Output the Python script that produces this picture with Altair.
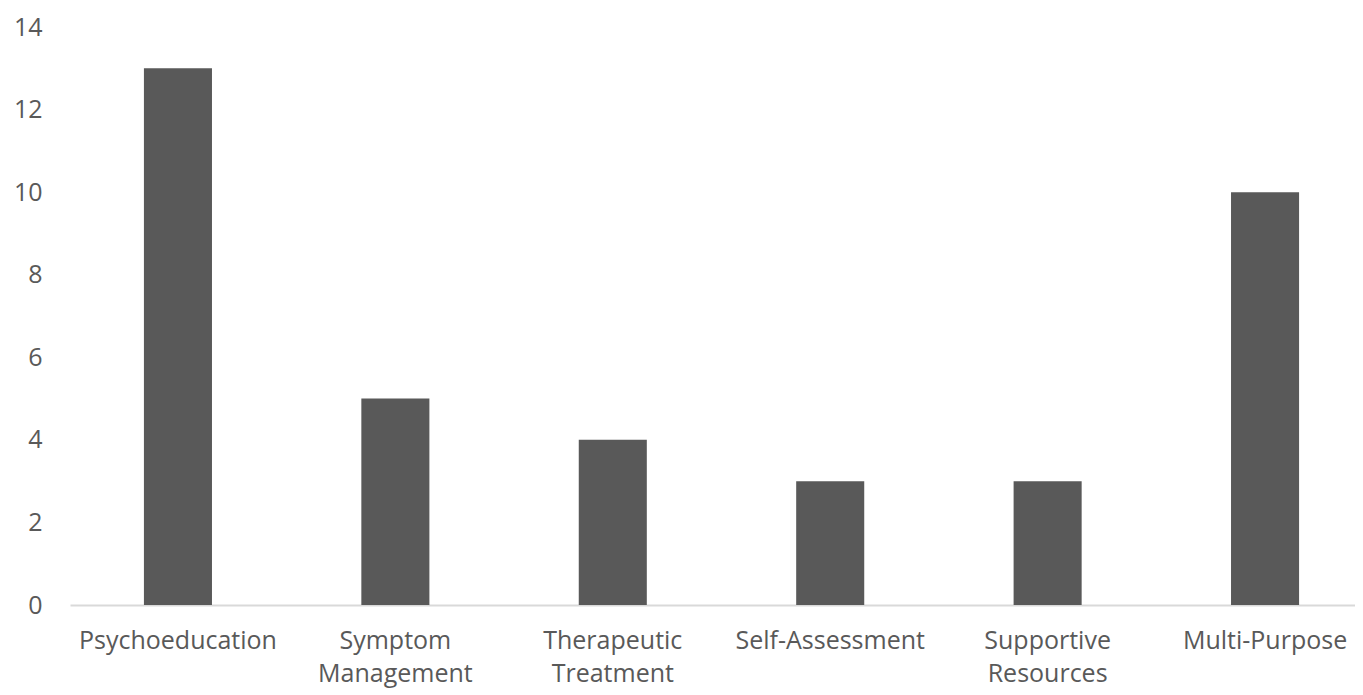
import altair as alt
import pandas as pd

categories = ["Psychoeducation", "Symptom|Management", "Therapeutic|Treatment",
              "Self-Assessment", "Supportive|Resources", "Multi-Purpose"]
values = [13, 5, 4, 3, 3, 10]

df = pd.DataFrame({"category": categories, "value": values})

chart = alt.Chart(df).mark_bar(color="#595959").encode(
    x=alt.X("category:N", sort=categories, title=None,
            scale=alt.Scale(paddingInner=0.687, paddingOuter=0.34, range=[0, 1303]),
            axis=alt.Axis(labelAngle=0, labelExpr="split(datum.label, '|')",
                          labelFont="Open Sans", labelFontSize=25, labelColor="#595959",
                          labelPadding=23, labelLineHeight=33, labelBaseline="top",
                          labelLimit=0,
                          domainColor="#d9d9d9", domainWidth=2, ticks=False, grid=False)),
    y=alt.Y("value:Q", title=None,
            scale=alt.Scale(domain=[0, 14]),
            axis=alt.Axis(values=[0, 2, 4, 6, 8, 10, 12, 14],
                          labelFont="Open Sans", labelFontSize=25, labelColor="#595959",
                          labelPadding=28, domain=False, ticks=False, grid=False)),
).properties(
    width=1285, height=578,
    autosize=alt.AutoSizeParams(type="none"),
    padding={"left": 62, "top": 19, "right": 0, "bottom": 88},
).configure_view(stroke=None)

chart.save("out.html", embed_options={"renderer": "svg", "actions": False})
